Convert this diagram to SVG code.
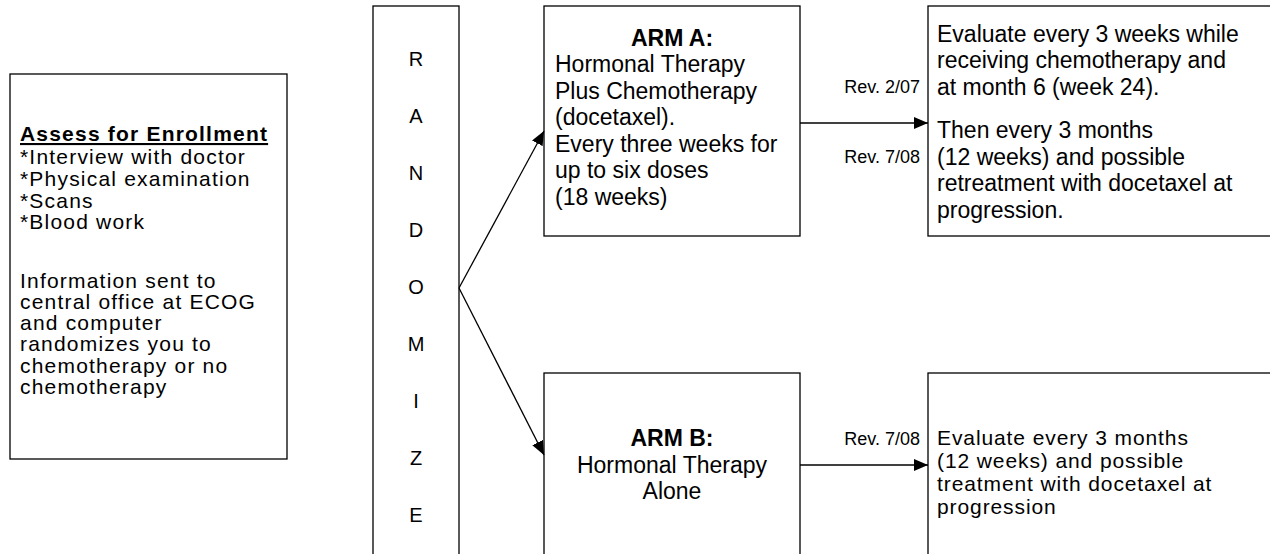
<svg xmlns="http://www.w3.org/2000/svg" width="1270" height="554" viewBox="0 0 1270 554">
<style>
.box{fill:#fff;stroke:#000;stroke-width:1.3}
text{font-family:"Liberation Sans",Arial,sans-serif;fill:#000}
.t{font-size:23px}
.tb{font-size:21px;letter-spacing:0.9px}
.l{font-size:21px;letter-spacing:1.2px}
.b{font-weight:bold}
.r{font-size:18px;text-anchor:end}
.c{text-anchor:middle}
.rz{font-size:20px;text-anchor:middle}
.conn{stroke:#000;stroke-width:1.3;fill:none}
</style>
<defs>
<marker id="ah" markerUnits="userSpaceOnUse" markerWidth="14" markerHeight="12" refX="14" refY="6" orient="auto">
<path d="M0,0 L14,6 L0,12 z" fill="#000"/>
</marker>
</defs>
<rect width="1270" height="554" fill="#fff"/>

<g id="enroll">
<rect class="box" x="10" y="74" width="277" height="385"/>
<text class="l b" x="20" y="141" text-decoration="underline">Assess for Enrollment</text>
<text class="l" x="20" y="164">*Interview with doctor</text>
<text class="l" x="20" y="186">*Physical examination</text>
<text class="l" x="20" y="208">*Scans</text>
<text class="l" x="20" y="229">*Blood work</text>
<text class="l" x="20" y="288">Information sent to</text>
<text class="l" x="20" y="309">central office at ECOG</text>
<text class="l" x="20" y="330">and computer</text>
<text class="l" x="20" y="351">randomizes you to</text>
<text class="l" x="20" y="373">chemotherapy or no</text>
<text class="l" x="20" y="394">chemotherapy</text>
</g>

<g id="randomize">
<rect class="box" x="373" y="6" width="86" height="560"/>
<text class="rz" x="416" y="66">R</text>
<text class="rz" x="416" y="123">A</text>
<text class="rz" x="416" y="180">N</text>
<text class="rz" x="416" y="237">D</text>
<text class="rz" x="416" y="294">O</text>
<text class="rz" x="416" y="351">M</text>
<text class="rz" x="416" y="408">I</text>
<text class="rz" x="416" y="465">Z</text>
<text class="rz" x="416" y="522">E</text>
</g>

<g id="armA">
<rect class="box" x="544" y="6" width="256" height="230"/>
<text class="t b c" x="672" y="46">ARM A:</text>
<text class="t" x="555" y="72">Hormonal Therapy</text>
<text class="t" x="555" y="99">Plus Chemotherapy</text>
<text class="t" x="555" y="125">(docetaxel).</text>
<text class="t" x="555" y="152">Every three weeks for</text>
<text class="t" x="555" y="178">up to six doses</text>
<text class="t" x="555" y="205">(18 weeks)</text>
</g>

<g id="evalA">
<rect class="box" x="928" y="6" width="360" height="230"/>
<text class="t" x="937" y="42">Evaluate every 3 weeks while</text>
<text class="t" x="937" y="68">receiving chemotherapy and</text>
<text class="t" x="937" y="95">at month 6 (week 24).</text>
<text class="t" x="937" y="138">Then every 3 months</text>
<text class="t" x="937" y="165">(12 weeks) and possible</text>
<text class="t" x="937" y="191">retreatment with docetaxel at</text>
<text class="t" x="937" y="218">progression.</text>
</g>

<g id="armB">
<rect class="box" x="544" y="373" width="256" height="200"/>
<text class="t b c" x="672" y="446">ARM B:</text>
<text class="t c" x="672" y="473">Hormonal Therapy</text>
<text class="t c" x="672" y="499">Alone</text>
</g>

<g id="evalB">
<rect class="box" x="928" y="373" width="360" height="200"/>
<text class="tb" x="937" y="445">Evaluate every 3 months</text>
<text class="tb" x="937" y="468">(12 weeks) and possible</text>
<text class="tb" x="937" y="491">treatment with docetaxel at</text>
<text class="tb" x="937" y="514">progression</text>
</g>

<g id="labels">
<text class="r" x="920" y="93">Rev. 2/07</text>
<text class="r" x="920" y="163">Rev. 7/08</text>
<text class="r" x="920" y="445">Rev. 7/08</text>
</g>

<g id="connectors">
<line class="conn" x1="459" y1="288" x2="544" y2="131" marker-end="url(#ah)"/>
<line class="conn" x1="459" y1="288" x2="544" y2="455" marker-end="url(#ah)"/>
<line class="conn" x1="800" y1="123" x2="928" y2="123" marker-end="url(#ah)"/>
<line class="conn" x1="800" y1="465" x2="928" y2="465" marker-end="url(#ah)"/>
</g>
</svg>
